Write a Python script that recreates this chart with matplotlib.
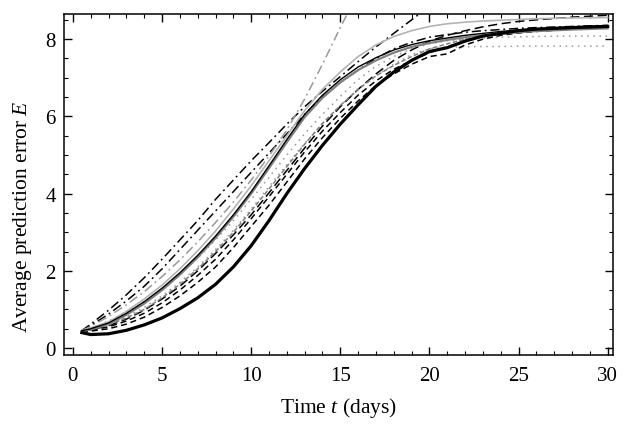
import numpy as np
import matplotlib; matplotlib.use('Agg')
from matplotlib import pyplot as plt
from matplotlib.ticker import MultipleLocator

plt.rcParams['font.family'] = ['Liberation Serif', 'DejaVu Serif']
plt.rcParams['mathtext.fontset'] = 'custom'
plt.rcParams['mathtext.it'] = 'Liberation Serif:italic'
plt.rcParams['mathtext.rm'] = 'Liberation Serif'

# time grid shared by most curves (days)
t = [0.5, 1, 2, 3, 4, 5, 6, 7, 8, 9, 10, 11, 12, 13, 14, 15, 16, 17, 18, 19, 20,
     21, 22, 23, 24, 25, 26, 28, 30]

thick = [0.40, 0.35, 0.37, 0.46, 0.60, 0.78, 1.02, 1.30, 1.65, 2.10, 2.65, 3.30, 4.00, 4.65,
         5.25, 5.80, 6.30, 6.78, 7.15, 7.45, 7.68, 7.78, 7.95, 8.08, 8.15, 8.22, 8.26, 8.30, 8.33]
solid_k = [0.45, 0.50, 0.65, 0.90, 1.20, 1.55, 1.95, 2.40, 2.90, 3.45, 4.05, 4.72, 5.40, 6.05,
           6.55, 6.95, 7.28, 7.52, 7.72, 7.86, 7.96, 8.03, 8.10, 8.15, 8.20, 8.24, 8.27, 8.32, 8.35]
solid_g = [0.44, 0.48, 0.62, 0.86, 1.15, 1.50, 1.90, 2.35, 2.85, 3.40, 4.00, 4.66, 5.33, 5.98,
           6.48, 6.88, 7.20, 7.45, 7.65, 7.80, 7.90, 7.98, 8.05, 8.10, 8.14, 8.18, 8.21, 8.25, 8.28]
solid_lg = [0.46, 0.52, 0.68, 0.95, 1.27, 1.63, 2.05, 2.52, 3.03, 3.60, 4.20, 4.85, 5.50, 6.15,
            6.70, 7.15, 7.55, 7.85, 8.07, 8.22, 8.33, 8.40, 8.44, 8.47, 8.49, 8.51, 8.53, 8.55, 8.56]
dashdot_c = [0.45, 0.58, 0.88, 1.22, 1.60, 2.05, 2.55, 3.05, 3.55, 4.05, 4.55, 5.05, 5.55, 6.05,
             6.50, 6.88, 7.20, 7.50, 7.75, 7.92, 8.05, 8.12, 8.18, 8.22, 8.25, 8.28, 8.30, 8.33, 8.36]
dashed1 = [0.42, 0.44, 0.50, 0.62, 0.80, 1.05, 1.35, 1.70, 2.10, 2.60, 3.15, 3.70, 4.30, 4.90,
           5.45, 5.95, 6.40, 6.80, 7.10, 7.35, 7.55, 7.62, 7.85, 8.00, 8.10, 8.16, 8.20, 8.26, 8.30]
dashed2 = [0.43, 0.46, 0.55, 0.70, 0.90, 1.17, 1.50, 1.88, 2.30, 2.80, 3.35, 3.92, 4.50, 5.08,
           5.62, 6.10, 6.55, 6.92, 7.22, 7.45, 7.65, 7.80, 7.95, 8.08, 8.16, 8.22, 8.26, 8.31, 8.35]
gray_dashed = [0.44, 0.48, 0.60, 0.78, 1.00, 1.30, 1.65, 2.05, 2.50, 3.00, 3.55, 4.12, 4.70, 5.28,
               5.82, 6.28, 6.70, 7.05, 7.32, 7.55, 7.75, 7.88, 8.00, 8.08, 8.14, 8.19, 8.22, 8.27, 8.30]
long_dashed = [0.44, 0.47, 0.58, 0.75, 0.98, 1.27, 1.60, 2.00, 2.45, 2.93, 3.45, 4.02, 4.60, 5.18,
               5.75, 6.25, 6.70, 7.10, 7.45, 7.72, 7.95, 8.10, 8.22, 8.32, 8.40, 8.46, 8.50, 8.57, 8.62]
dotted1 = [0.45, 0.48, 0.62, 0.82, 1.05, 1.35, 1.70, 2.10, 2.55, 3.05, 3.60, 4.18, 4.75, 5.30,
           5.80, 6.28, 6.70, 7.05, 7.35, 7.60, 7.75, 7.80, 7.80, 7.81, 7.81, 7.82, 7.82, 7.82, 7.82]
dotted2 = [0.45, 0.50, 0.70, 0.93, 1.20, 1.52, 1.90, 2.33, 2.80, 3.30, 3.85, 4.42, 5.00, 5.55,
           6.05, 6.52, 6.95, 7.30, 7.55, 7.75, 7.88, 7.96, 8.00, 8.03, 8.05, 8.06, 8.07, 8.08, 8.08]

# curves that leave through the top of the frame
t_a = [0.5, 1, 2, 3, 4, 5, 6, 7, 8, 9, 10, 11, 12, 13, 14, 15, 16, 17, 18, 19, 20]
dashdot_a = [0.45, 0.62, 0.98, 1.38, 1.82, 2.30, 2.80, 3.30, 3.85, 4.35, 4.85, 5.32, 5.80, 6.25,
             6.65, 7.03, 7.42, 7.80, 8.15, 8.50, 8.85]
t_g = [0.5, 1, 2, 3, 4, 5, 6, 7, 8, 9, 10, 11, 12, 13, 14, 15, 15.5]
dashdot_g = [0.45, 0.56, 0.82, 1.12, 1.46, 1.85, 2.28, 2.75, 3.25, 3.78, 4.35, 4.97, 5.65, 6.45,
             7.35, 8.30, 8.75]

fig = plt.figure(figsize=(6.3, 4.31), dpi=100)
ax = fig.add_axes([0.1016, 0.174, 0.8714, 0.791])

dd = (6, 2.5, 1.2, 2.5)
ax.plot(t_a, dashdot_a, color='k', lw=1.1, dashes=dd)
ax.plot(t, dashdot_c, color='k', lw=1.1, dashes=dd)
ax.plot(t_g, dashdot_g, color='0.6', lw=1.1, dashes=dd)
ax.plot(t, dotted1, color='0.6', lw=1.1, dashes=(1, 3))
ax.plot(t, dotted2, color='0.6', lw=1.1, dashes=(1, 3))
ax.plot(t, long_dashed, color='k', lw=1.1, dashes=(6, 3))
ax.plot(t, dashed1, color='k', lw=1.1, dashes=(4, 2.5))
ax.plot(t, dashed2, color='k', lw=1.1, dashes=(4, 2.5))
ax.plot(t, gray_dashed, color='0.5', lw=1.1, dashes=(3, 1.5))
ax.plot(t, solid_lg, color='0.7', lw=1.2)
ax.plot(t, solid_g, color='0.5', lw=1.6)
ax.plot(t, solid_k, color='k', lw=1.0)
ax.plot(t, thick, color='k', lw=2.3)

ax.set_xlim(-0.5, 30.3)
ax.set_ylim(-0.18, 8.65)
ax.xaxis.set_major_locator(MultipleLocator(5))
ax.xaxis.set_minor_locator(MultipleLocator(1))
ax.yaxis.set_major_locator(MultipleLocator(2))
ax.yaxis.set_minor_locator(MultipleLocator(0.5))
ax.tick_params(which='both', direction='in', top=True, right=True, labelsize=15)
ax.tick_params(which='major', length=6, width=1)
ax.tick_params(which='minor', length=3, width=0.8)
ax.tick_params(axis='x', pad=8)
ax.tick_params(axis='y', pad=6)
for s in ax.spines.values():
    s.set_linewidth(1.1)

ax.set_xlabel('Time $t$ (days)', fontsize=15.5, va='center')
ax.set_ylabel('Average prediction error $E$', fontsize=15.5, va='center')
ax.xaxis.set_label_coords(0.5, -0.1525)
ax.yaxis.set_label_coords(-0.0765, 0.41)

plt.savefig('out.png', dpi=100)
